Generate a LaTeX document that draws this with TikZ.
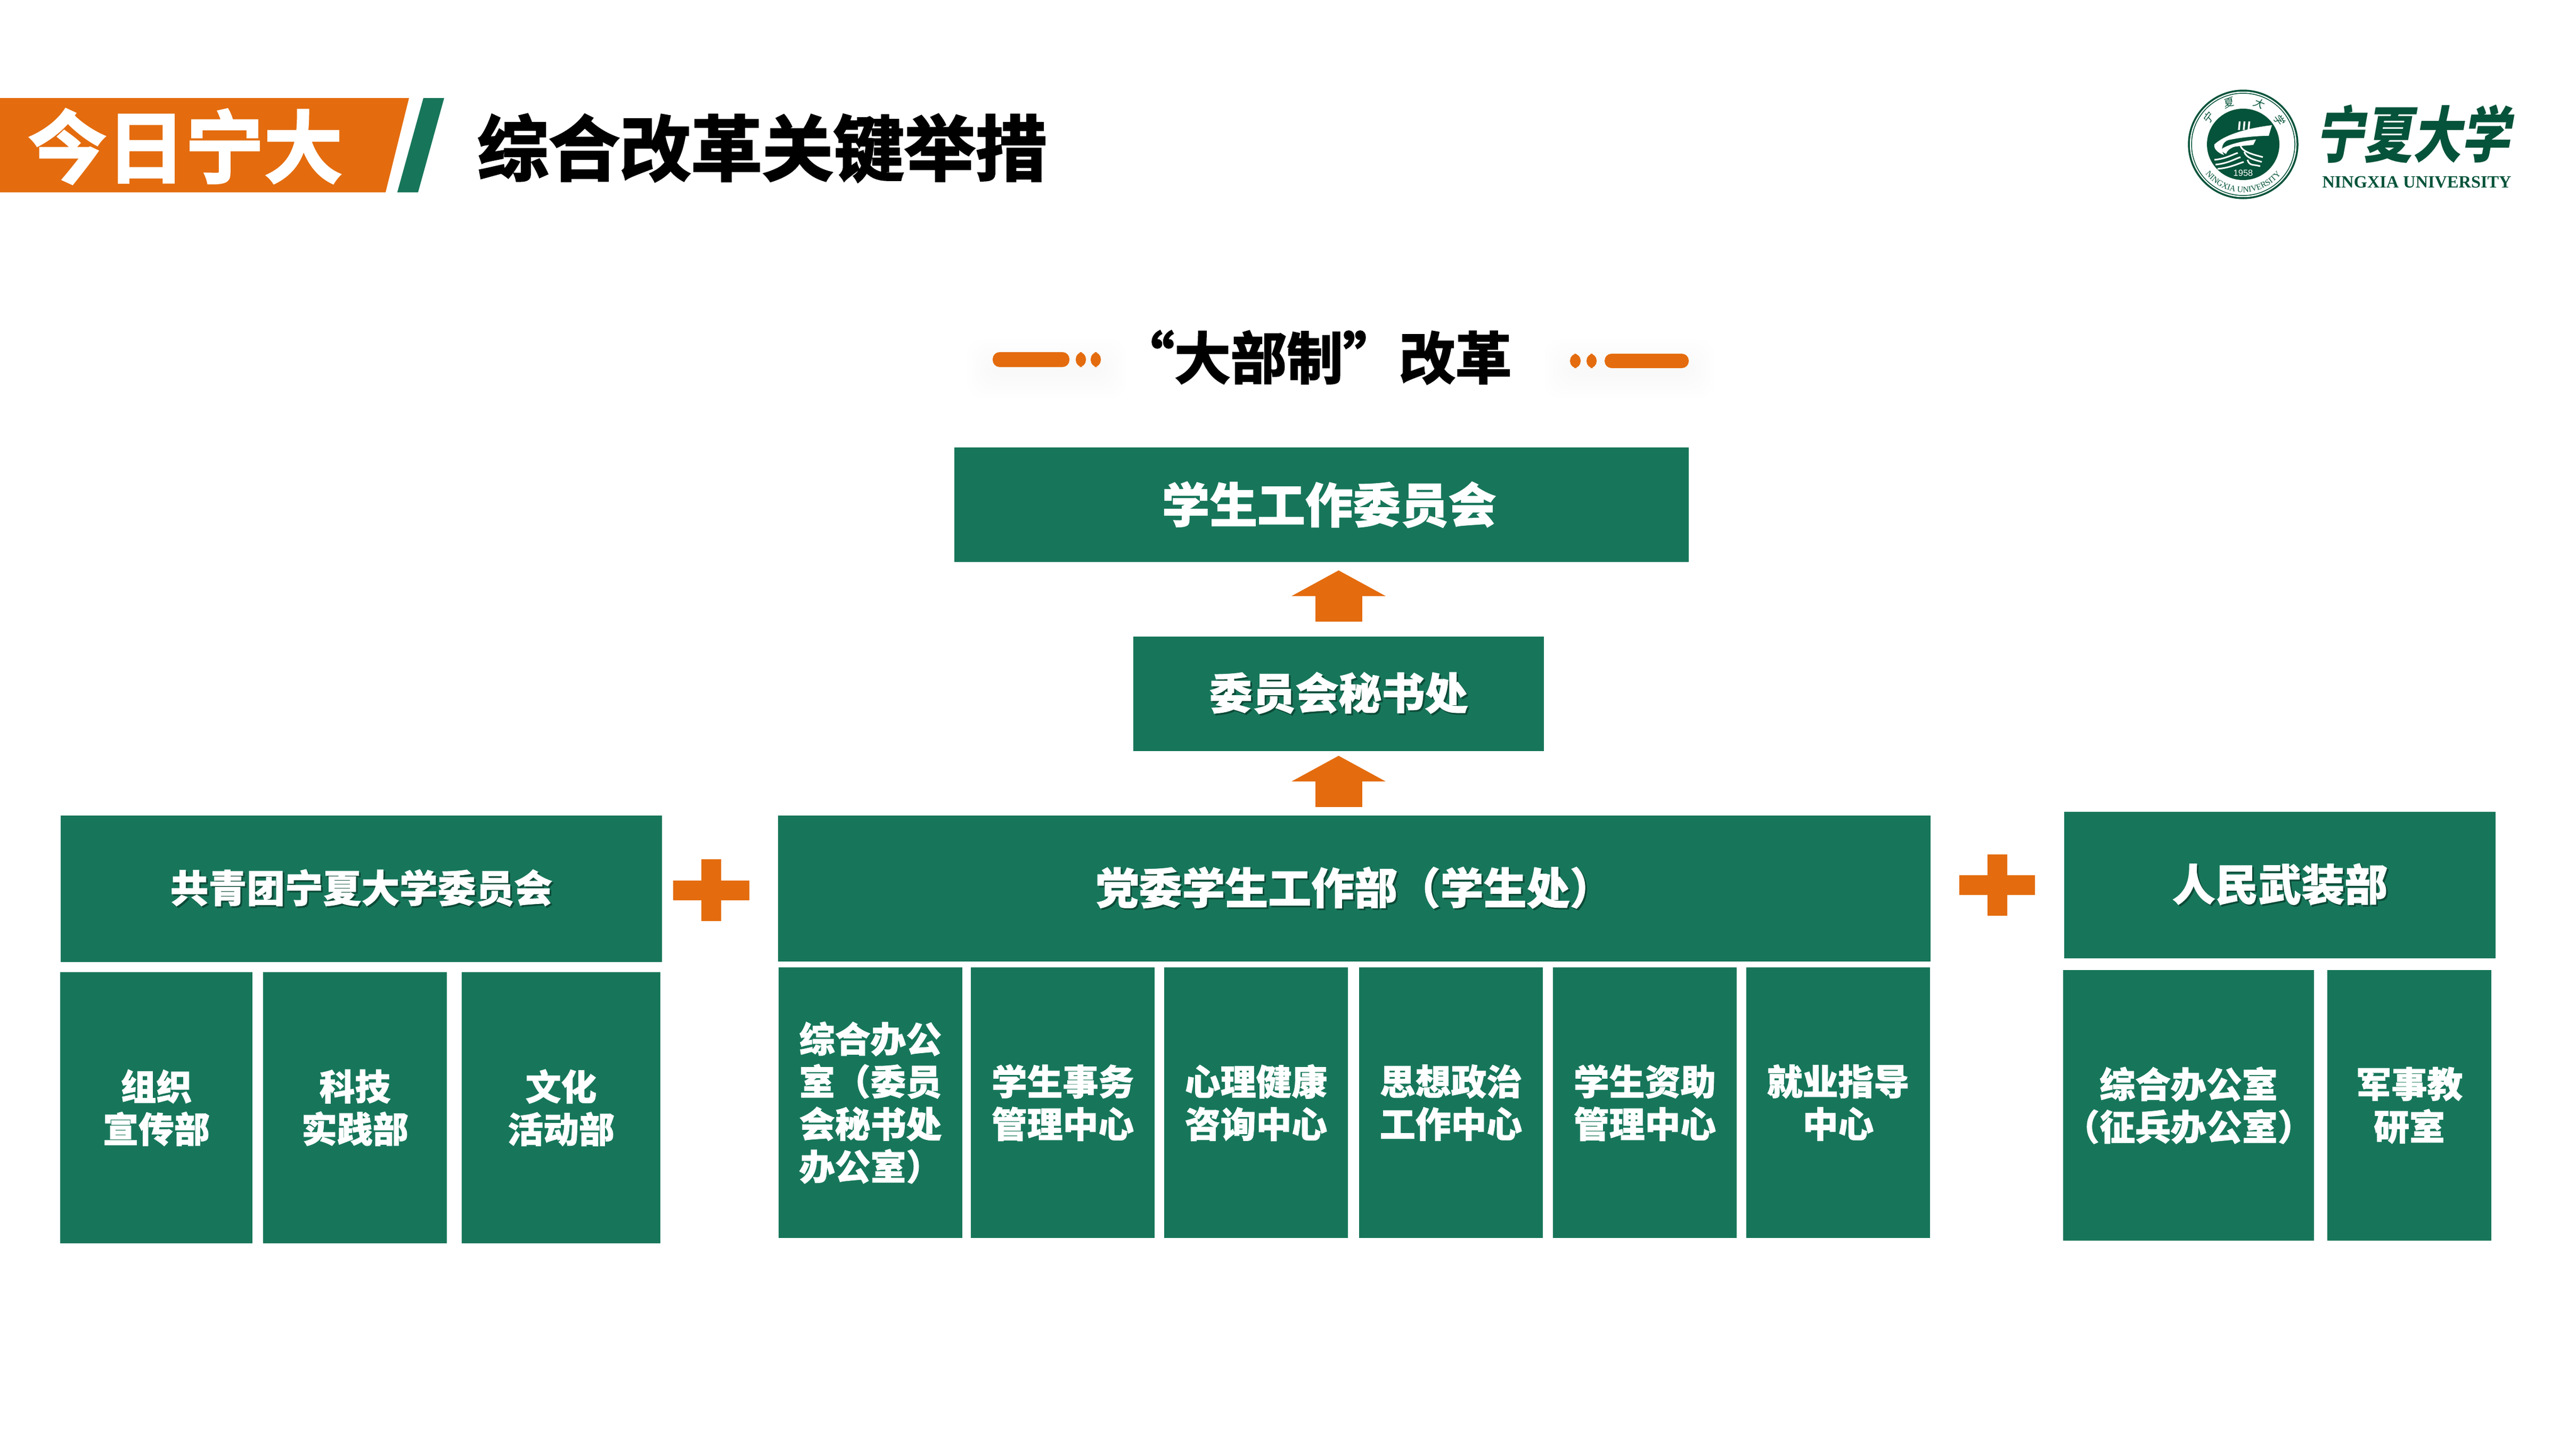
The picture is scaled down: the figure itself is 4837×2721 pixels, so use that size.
\documentclass[tikz,border=0pt]{standalone}
\usepackage{fontspec}
\setmainfont{Noto Sans CJK SC}[BoldFeatures={FakeBold=1.2}]
\newfontfamily\cjkblack{Noto Sans CJK SC Bold}[FakeBold=2.4]
\newfontfamily\logoserif{Liberation Serif}
\newfontfamily\logosans{Liberation Sans}
\newfontfamily\logobrush{Noto Sans CJK SC}[FakeSlant=0.22]
\usetikzlibrary{arrows.meta,decorations.text}

\definecolor{deptgreen}{HTML}{17765A}
\definecolor{shadegreen}{HTML}{0C4A37}
\definecolor{markorange}{HTML}{E46C0E}
\definecolor{logogreen}{HTML}{05533A}

\newcommand{\dropped}[1]{\rlap{\kern.9pt\raisebox{-.9pt}{\textcolor{shadegreen}{#1}}}#1}
\newcommand{\sealfont}{\logoserif\fontsize{4.4}{5}\selectfont}

\tikzset{
  greenbox/.style={fill=deptgreen,text=white,inner sep=0pt,align=center,font=\bfseries},
  sublabel/.style={font=\bfseries\fontsize{19}{22.7}\selectfont},
  uparrow/.style={draw=markorange,line width=0.88cm,-{Triangle[width=1.74cm,length=0.48cm,fill=markorange]}},
  pill/.style={fill=markorange,rounded corners=0.13cm},
  waveline/.style={draw=white,line width=0.03cm}
}

\begin{document}
\begin{tikzpicture}[x=0.01cm,y=-0.01cm]
  \fill[white] (0,0) rectangle (4837,2721);
  \useasboundingbox (0,0) rectangle (4837,2721);

  % header
  \fill[markorange] (0,184) -- (768,184) -- (724,361) -- (0,361) -- cycle;
  \fill[deptgreen] (795,184) -- (834,184) -- (785,361) -- (746,361) -- cycle;
  \node[text=white,font=\cjkblack\fontsize{42}{45}\selectfont] (today) at (348,275) {今日宁大};
  \node[font=\cjkblack\fontsize{38}{42}\selectfont] (headline) at (1431,278) {综合改革关键举措};

  % section title
  \foreach \g in {8,16,...,48}{
    \fill[black,opacity=.005,rounded corners=0.3cm] (1864-\g,685-\g) rectangle (2067+\g,700+\g);
    \fill[black,opacity=.005,rounded corners=0.3cm] (2948-\g,685-\g) rectangle (3171+\g,700+\g);
  }
  \fill[pill] (1864,661) rectangle (2008,689);
  \fill[pill] (2020,661) rectangle (2039,689);
  \fill[pill] (2048,661) rectangle (2067,689);
  \fill[pill] (2948,664) rectangle (2968,691);
  \fill[pill] (2979,664) rectangle (2998,691);
  \fill[pill] (3013,664) rectangle (3171,691);
  \node[font=\cjkblack\fontsize{30}{33}\selectfont] (reform) at (2469,671) {“大部制”改革};

  % upper boxes
  \node[greenbox,minimum width=13.79cm,minimum height=2.15cm] (committee) at (2481.5,947.5)
    {\hspace*{8pt}\raisebox{.8pt}{\fontsize{25.5}{30}\selectfont 学生工作委员会}};
  \node[greenbox,minimum width=7.71cm,minimum height=2.15cm] (secretariat) at (2513.5,1302.5)
    {\fontsize{23}{27}\selectfont\dropped{委员会秘书处}};

  % the three head boxes
  \node[greenbox,minimum width=11.29cm,minimum height=2.75cm] (league) at (678.5,1668.5)
    {\fontsize{20.4}{24}\selectfont\dropped{共青团宁夏大学委员会}};
  \node[greenbox,minimum width=21.62cm,minimum height=2.74cm] (dept) at (2543,1668)
    {\fontsize{23}{27}\selectfont\dropped{党委学生工作部（学生处）}};
  \node[greenbox,minimum width=8.10cm,minimum height=2.75cm] (armed) at (4281,1661.5)
    {\fontsize{23}{27}\selectfont\dropped{人民武装部}};

  \draw[uparrow,shorten >=0.15cm,shorten <=0.27cm] (secretariat.north) -- (secretariat.north |- committee.south);
  \draw[uparrow,shorten >=0.08cm,shorten <=0.15cm] (secretariat.north |- dept.north) -- (secretariat.south);

  % plus marks
  \fill[markorange] (1264,1653) rectangle (1407,1690) (1317,1613) rectangle (1354,1729);
  \fill[markorange] (3679,1643) rectangle (3821,1680) (3732,1604) rectangle (3769,1719);

  % sub units
  \foreach \n/\xa/\xb/\t in {
    organ/113/474/{组织\\宣传部},
    tech/494/839/{科技\\实践部},
    culture/867/1240/{文化\\活动部}}{
    \node[greenbox,sublabel,minimum width={(\xb-\xa)*0.01cm},minimum height=5.09cm] (\n) at ({(\xa+\xb)/2},2079.5) {\t};
  }
  \foreach \n/\xa/\xb/\t in {
    affairs/1823/2168/{学生事务\\管理中心},
    mental/2186/2531/{心理健康\\咨询中心},
    ideology/2552/2897/{思想政治\\工作中心},
    aid/2916/3261/{学生资助\\管理中心},
    career/3279/3624/{就业指导\\中心}}{
    \node[greenbox,sublabel,minimum width={(\xb-\xa)*0.01cm},minimum height=5.08cm] (\n) at ({(\xa+\xb)/2},2070) {\t};
  }
  \node[greenbox,sublabel,align=left,minimum width=3.45cm,minimum height=5.08cm] (office) at (1634.5,2070)
    {综合办公\\室（委员\\会秘书处\\办公室）};
  \node[greenbox,sublabel,minimum width=4.71cm,minimum height=5.08cm] (recruit) at (4109.5,2075)
    {综合办公室\\（征兵办公室）};
  \node[greenbox,sublabel,minimum width=3.08cm,minimum height=5.08cm] (drill) at (4524,2075)
    {军事教\\研室};

  % logo
  \begin{scope}[shift={(4212,271)},x=0.01cm,y=0.01cm]
    \draw[logogreen,line width=0.035cm] (0,0) ellipse [x radius=102,y radius=101];
    \draw[logogreen,line width=0.015cm] (0,0) ellipse [x radius=97,y radius=96];
    \fill[logogreen] (0,0) ellipse [x radius=68,y radius=67];
    \foreach \x in {-8,1,10}
      \draw[white,line width=0.035cm] (\x,27) -- (\x+1.5,43);
    \fill[white] (54,36) .. controls (20,32) and (-30,22) .. (-54,0)
      .. controls (-56,-8) and (-48,-16) .. (-36,-20)
      .. controls (-44,-8) and (-38,5) .. (-28,8)
      .. controls (-5,13) and (25,16) .. (48,16) -- cycle;
    \fill[white] (24,9) .. controls (5,7) and (-25,2) .. (-41,-9)
      .. controls (-41,-13) and (-37,-16) .. (-32,-18)
      .. controls (-30,-10) and (-20,-5) .. (-14,-4)
      .. controls (-5,-3) and (10,-2) .. (19,-1) -- cycle;
    \foreach \a/\b/\c/\d in {-54/-29/-10/-16,-52/-38/-5/-24,-48/-46/1/-33}
      \draw[waveline] (\a,\b) .. controls ({(\a+\c)/2},{\b+2}) and ({\c-8},{\d-2}) .. (\c,\d);
    \foreach \a/\b/\c/\d in {-5/-3/37/-24,2/-14/35/-33,8/-29/32/-41}
      \draw[waveline] (\a,\b) .. controls ({\a+4},{\b-12}) and ({\c-14},{\d+4}) .. (\c,\d);
    \node[text=white,inner sep=0pt,font=\logosans\fontsize{4.7}{5}\selectfont] (founded) at (0,-54) {1958};
    \foreach \n/\a/\t in {sa/143/宁,sb/110/夏,sc/69/大,sd/35/学}
      \node[text=logogreen,inner sep=0pt,rotate=\a-90,font=\logobrush\fontsize{5.6}{6}\selectfont] (\n) at (\a:82) {\t};
    \path[postaction={decorate},decoration={text along path,text color=logogreen,text align=center,
      text={|\sealfont|NINGXIA UNIVERSITY}}]
      (203:90) arc[start angle=203,end angle=337,radius=90];
  \end{scope}
  \node[text=logogreen,inner sep=0pt,font=\logobrush\bfseries\fontsize{26}{30}\selectfont] (brushname) at (4530,251)
    {\scalebox{1}[1.25]{宁夏大学}};
  \node[text=logogreen,inner sep=0pt,font=\logoserif\bfseries\fontsize{9.2}{10}\selectfont] (enname) at (4538,342)
    {NINGXIA UNIVERSITY};
\end{tikzpicture}
\end{document}
